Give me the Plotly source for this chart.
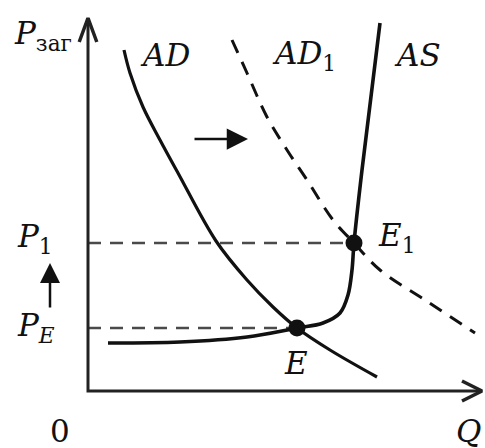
import plotly.graph_objects as go

# curve points (Q, P)
ad_q = [0.9, 1.05, 1.375, 1.8, 2.25, 3.2, 3.975, 4.625, 5.225, 6.05, 7.225]
ad_p = [8.525, 7.95, 7.1, 6.275, 5.45, 3.75, 2.775, 2.1, 1.575, 1.025, 0.35]

ad1_q = [3.6, 3.975, 4.475, 4.975, 5.475, 6.125, 6.65, 7.3, 8.425, 9.675]
ad1_p = [8.775, 7.95, 6.85, 6.025, 5.275, 4.275, 3.7, 3.025, 2.275, 1.45]

as_q = [0.5, 2.3, 3.975, 5.225, 5.875, 6.3, 6.5, 6.6, 6.65, 6.85, 7.3]
as_p = [1.2, 1.225, 1.35, 1.575, 1.7, 1.95, 2.4, 3.025, 3.7, 5.525, 9.2]

# equilibrium points E and E1
eq_q = [5.225, 6.65]
eq_p = [1.575, 3.7]
eq_names = ["<i>E</i>", "<i>E</i><sub>1</sub>"]

SERIF = "DejaVu Serif"
INK = "#111111"

fig = go.Figure()

# dashed guides to the price axis
for q, p in zip(eq_q, eq_p):
    fig.add_trace(go.Scatter(x=[0, q], y=[p, p], mode="lines",
                             line=dict(color="#4a4a4a", width=2.5, dash="13px,9px")))

fig.add_trace(go.Scatter(x=ad1_q, y=ad1_p, mode="lines", line_shape="spline",
                         line=dict(color=INK, width=3, dash="14px,10px")))
fig.add_trace(go.Scatter(x=ad_q, y=ad_p, mode="lines", line_shape="spline",
                         line=dict(color=INK, width=3.2)))
fig.add_trace(go.Scatter(x=as_q, y=as_p, mode="lines", line_shape="spline",
                         line=dict(color=INK, width=3.6)))
fig.add_trace(go.Scatter(x=eq_q, y=eq_p, mode="markers",
                         marker=dict(color=INK, size=17)))

# axes with open arrow heads
q_max, p_max = 9.85, 9.325
fig.add_trace(go.Scatter(x=[0, 0, q_max], y=[p_max, 0, 0], mode="lines",
                         line=dict(color="#222222", width=3)))
fig.add_trace(go.Scatter(x=[-0.22, 0, 0.22], y=[p_max - 0.6, p_max, p_max - 0.6], mode="lines",
                         line=dict(color="#222222", width=3.5)))
fig.add_trace(go.Scatter(x=[q_max - 0.5, q_max, q_max - 0.5], y=[0.25, 0, -0.25], mode="lines",
                         line=dict(color="#222222", width=3.5)))

def label(x, y, text, size=31, xanchor="center", yanchor="middle"):
    fig.add_annotation(x=x, y=y, text=text, showarrow=False, xref="x", yref="y",
                       xanchor=xanchor, yanchor=yanchor,
                       font=dict(family=SERIF, size=size, color=INK))

label(-1.9, 8.9, "<i>P</i><sub>заг</sub>", xanchor="left")
label(1.25, 8.4, "<i>AD</i>", xanchor="left")
label(4.55, 8.4, "<i>AD</i><sub>1</sub>", xanchor="left")
label(7.6, 8.4, "<i>AS</i>", xanchor="left")
label(7.2, 3.85, eq_names[1], xanchor="left")
label(5.2, 0.7, eq_names[0])
label(-1.82, 3.82, "<i>P</i><sub>1</sub>", xanchor="left")
label(-1.82, 1.58, "<i>P</i><sub><i>E</i></sub>", xanchor="left")
label(-0.7, -1.0, "0")
label(9.5, -1.0, "<i>Q</i>")

# shift arrows
fig.add_annotation(x=4.0, y=6.3, ax=2.625, ay=6.3, xref="x", yref="y", axref="x", ayref="y",
                   text="", showarrow=True, arrowhead=2, arrowsize=1.7, arrowwidth=2.5,
                   arrowcolor=INK)
fig.add_annotation(x=-0.95, y=3.2, ax=-0.95, ay=2.05, xref="x", yref="y", axref="x", ayref="y",
                   text="", showarrow=True, arrowhead=2, arrowsize=1.6, arrowwidth=2.5,
                   arrowcolor=INK)

fig.update_layout(
    width=485, height=448,
    margin=dict(l=0, r=0, t=0, b=0),
    paper_bgcolor="white", plot_bgcolor="white",
    showlegend=False,
    xaxis=dict(range=[-2.2, 9.925], visible=False, fixedrange=True),
    yaxis=dict(range=[-1.425, 9.775], visible=False, fixedrange=True),
)

fig.write_html("out.html", config={"displayModeBar": False},
               post_script="document.body.style.margin='0';document.body.style.overflow='hidden';")
